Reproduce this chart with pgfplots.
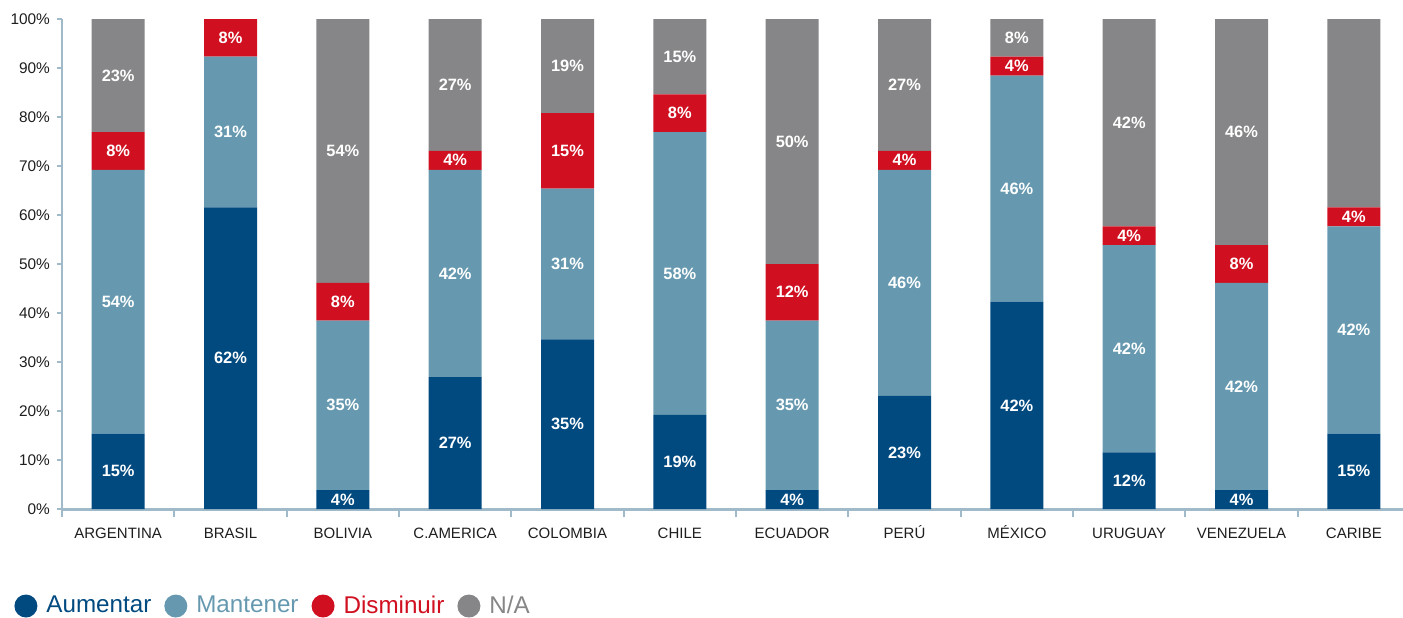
\documentclass[border=0pt]{standalone}
\usepackage{pgfplots}
\pgfplotsset{compat=1.18}
\usepackage{pgfplotstable}
\usepackage{fontspec}
\setmainfont{Liberation Sans}
\definecolor{aum}{RGB}{0,74,128}
\definecolor{man}{RGB}{102,153,176}
\definecolor{dis}{RGB}{208,16,32}
\definecolor{na}{RGB}{134,134,136}
\definecolor{axc}{RGB}{160,186,202}
\definecolor{txt}{RGB}{30,30,30}
\pgfplotstableread{
x aum man dis na
0 15.385 53.846 7.692 23.077
1 61.538 30.769 7.692 0
2 3.846 34.615 7.692 53.846
3 26.923 42.308 3.846 26.923
4 34.615 30.769 15.385 19.231
5 19.231 57.692 7.692 15.385
6 3.846 34.615 11.538 50
7 23.077 46.154 3.846 26.923
8 42.308 46.154 3.846 7.692
9 11.538 42.308 3.846 42.308
10 3.846 42.308 7.692 46.154
11 15.385 42.308 3.846 38.462
}\datatable
\pgfplotsset{
  circlegend/.style={legend image code/.code={\fill[##1,draw=none] (0pt,0pt) circle (5.75pt);}},
}
\begin{document}
\begin{tikzpicture}
\begin{axis}[
  at={(0,0)}, anchor=south west,
  scale only axis, width=674pt, height=245pt,
  xmin=-0.5, xmax=11.5, ymin=0, ymax=100,
  ybar stacked, bar width=26.5pt,
  axis x line*=bottom, axis y line*=left,
  axis line style={-},
  x axis line style={draw=axc, line width=1.5pt},
  y axis line style={draw=axc, line width=0.7pt},
  tick align=outside,
  major tick length=2.5pt,
  minor tick length=4pt,
  ytick={0,10,...,100},
  yticklabels={0\%,10\%,20\%,30\%,40\%,50\%,60\%,70\%,80\%,90\%,100\%},
  xtick={0,...,11},
  xticklabels={ARGENTINA,BRASIL,BOLIVIA,C.AMERICA,COLOMBIA,CHILE,ECUADOR,PERÚ,MÉXICO,URUGUAY,VENEZUELA,CARIBE},
  minor xtick={-0.5,0.5,...,11.5},
  major x tick style={draw=none},
  minor x tick style={draw=axc, line width=1pt},
  y tick style={draw=axc, line width=0.6pt},
  yticklabel style={font=\fontsize{7.7}{9}\selectfont, text=txt},
  xticklabel style={font=\fontsize{7.5}{9}\selectfont, text=txt, yshift=-3pt, text height=5.6pt, text depth=0pt},
  nodes near coords={\pgfmathfloatifflags{\pgfplotspointmeta}{0}{}{\pgfmathprintnumber[fixed,precision=0,assume math mode=true]{\pgfplotspointmeta}\%}},
  every node near coord/.append style={font=\bfseries\fontsize{8.2}{9}\selectfont, text=white, anchor=center},
  legend style={at={(-0.0356,-0.198)}, anchor=west, draw=none, fill=none, inner xsep=0pt,
    nodes={inner xsep=1pt},
    font=\fontsize{12.1}{14}\selectfont, legend columns=4,
    /tikz/every odd column/.append style={column sep=3.5pt},
    /tikz/every even column/.append style={column sep=5.5pt}},
  legend cell align=left,
]
\addplot[fill=aum, draw=none, circlegend] table[x=x, y=aum] {\datatable};
\addlegendentry{\textcolor{aum}{Aumentar}}
\addplot[fill=man, draw=none, circlegend] table[x=x, y=man] {\datatable};
\addlegendentry{\textcolor{man}{Mantener}}
\addplot[fill=dis, draw=none, circlegend] table[x=x, y=dis] {\datatable};
\addlegendentry{\textcolor{dis}{Disminuir}}
\addplot[fill=na, draw=none, circlegend] table[x=x, y=na] {\datatable};
\addlegendentry{\textcolor{na}{N/A}}
\end{axis}
\pgfresetboundingbox
\path[use as bounding box] (-31pt,-54pt) rectangle (670.5pt,254.5pt);
\end{tikzpicture}
\end{document}
